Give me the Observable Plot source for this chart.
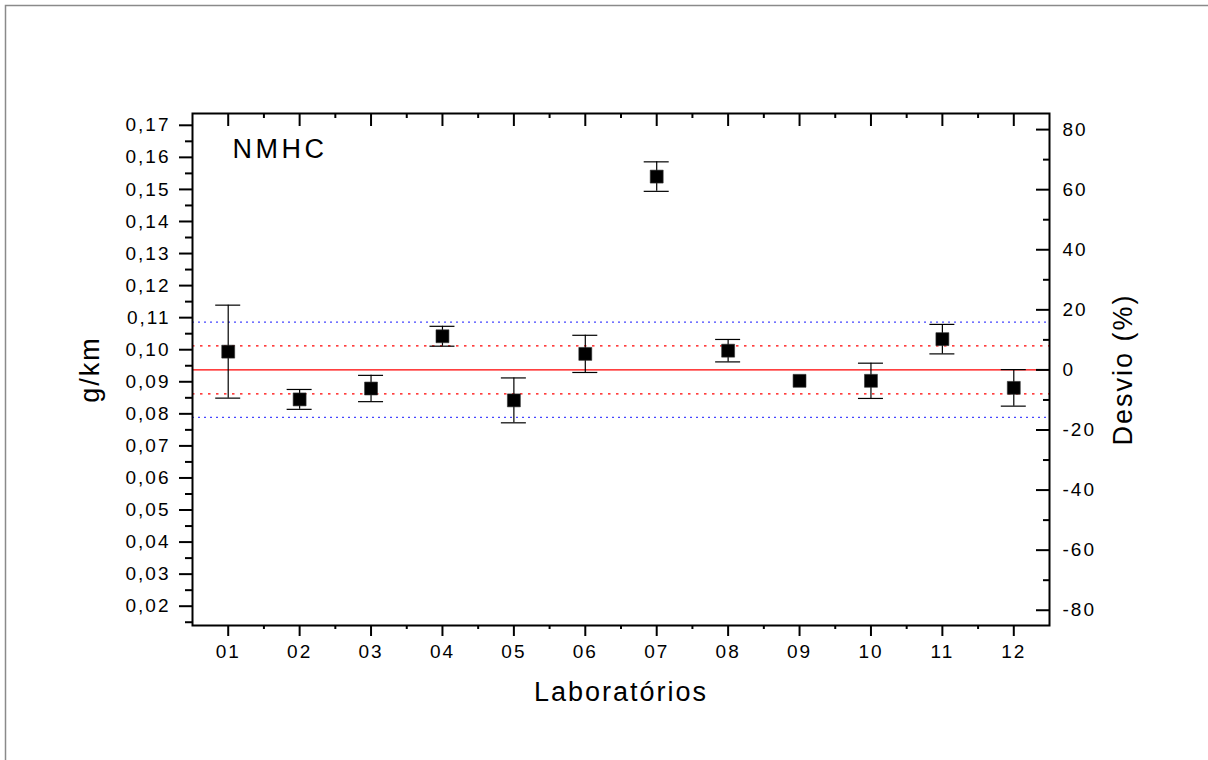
<!DOCTYPE html>
<html>
<head>
<meta charset="utf-8">
<script src="https://cdn.jsdelivr.net/npm/d3@7"></script>
<script src="https://cdn.jsdelivr.net/npm/@observablehq/plot@0.6"></script>
<style>
  body { margin: 0; background: #fff; }
  #chart text { letter-spacing: 2px; }
</style>
</head>
<body>
<div id="chart"></div>
<script>
// ---- data ----
const labs = ["01","02","03","04","05","06","07","08","09","10","11","12"];
const values = [0.0994, 0.0845, 0.0879, 0.1042, 0.0842, 0.0987, 0.1540, 0.0997, 0.0903, 0.0903, 0.1033, 0.0881];
const errors = [0.0145, 0.0031, 0.0041, 0.0031, 0.0070, 0.0058, 0.0046, 0.0035, 0.0000, 0.0055, 0.0046, 0.0057];
const meanValue = 0.0937;
const innerBand = [0.1012, 0.0862];   // dotted red
const outerBand = [0.1086, 0.0789];   // dotted blue

// ---- tick values / labels ----
const leftTicks = [0.02,0.03,0.04,0.05,0.06,0.07,0.08,0.09,0.10,0.11,0.12,0.13,0.14,0.15,0.16,0.17];
const leftTickLabels = ["0,02","0,03","0,04","0,05","0,06","0,07","0,08","0,09","0,10","0,11","0,12","0,13","0,14","0,15","0,16","0,17"];
const leftMinor = [0.015,0.025,0.035,0.045,0.055,0.065,0.075,0.085,0.095,0.105,0.115,0.125,0.135,0.145,0.155,0.165];
const pctTicks = [-80,-60,-40,-20,0,20,40,60,80];
const pctTickLabels = ["-80","-60","-40","-20","0","20","40","60","80"];
const pctMinor = [-70,-50,-30,-10,10,30,50,70];
const labMinor = [1.5,2.5,3.5,4.5,5.5,6.5,7.5,8.5,9.5,10.5,11.5];

const data = labs.map((lab, i) => ({lab, x: i + 1, v: values[i], e: errors[i]}));
const withErr = data.filter(d => d.e > 0);
const pctToG = p => meanValue * (1 + p / 100);
const labPos = labs.map((l, i) => i + 1);

const font = "'Liberation Sans', Arial, Helvetica, sans-serif";
const red = "#ff0000";
const blue = "#4646ff";

const chart = Plot.plot({
  width: 1208,
  height: 760,
  marginLeft: 192,
  marginRight: 159,
  marginTop: 113,
  marginBottom: 135,
  style: {fontFamily: font, fontSize: "19px", color: "black", background: "white"},
  x: {type: "linear", domain: [0.5, 12.5]},
  y: {type: "linear", domain: [0.01398, 0.17368]},
  marks: [
    // outer picture border (extends past right/bottom edges)
    Plot.frame({stroke: "#8a8a8a", strokeWidth: 1.5, insetTop: -108, insetLeft: -187, insetRight: -300, insetBottom: -300}),
    // reference lines
    Plot.ruleY(outerBand, {stroke: blue, strokeWidth: 1.3, strokeDasharray: "2,4"}),
    Plot.ruleY(innerBand, {stroke: red, strokeWidth: 1.2, strokeDasharray: "2.5,5.5"}),
    Plot.ruleY([meanValue], {stroke: red, strokeWidth: 1.4}),
    // error bars
    Plot.ruleX(withErr, {x: "x", y1: d => d.v - d.e, y2: d => d.v + d.e, stroke: "black", strokeWidth: 1.2}),
    Plot.ruleY(withErr, {y: d => d.v + d.e, x1: "x", x2: "x", insetLeft: -12.5, insetRight: -12.5, stroke: "black", strokeWidth: 1.2}),
    Plot.ruleY(withErr, {y: d => d.v - d.e, x1: "x", x2: "x", insetLeft: -12.5, insetRight: -12.5, stroke: "black", strokeWidth: 1.2}),
    // points
    Plot.dot(data, {x: "x", y: "v", symbol: "square", r: 7.3, fill: "black", stroke: "#333", strokeWidth: 0.6}),
    // axes box
    Plot.frame({stroke: "black", strokeWidth: 2}),
    // left axis
    Plot.axisY(leftTicks, {anchor: "left", tickSize: 13, tickPadding: 9, strokeWidth: 2, tickFormat: (d, i) => leftTickLabels[i], fontSize: 19, label: null}),
    Plot.axisY(leftMinor, {anchor: "left", tickSize: 7, strokeWidth: 2, fill: "none", label: null}),
    // right axis (Desvio %), ticks pointing inward
    Plot.axisY(pctTicks.map(pctToG), {anchor: "right", tickSize: 14, dx: -14, strokeWidth: 2, fill: "none", label: null}),
    Plot.axisY(pctMinor.map(pctToG), {anchor: "right", tickSize: 7, dx: -7, strokeWidth: 2, fill: "none", label: null}),
    Plot.axisY(pctTicks.map(pctToG), {anchor: "right", tickSize: 0, tickPadding: 13, stroke: "none", tickFormat: (d, i) => pctTickLabels[i], fontSize: 19, label: null}),
    // bottom axis
    Plot.axisX(labPos, {anchor: "bottom", tickSize: 11, tickPadding: 8, strokeWidth: 2, tickFormat: (d, i) => labs[i], fontSize: 19, label: null}),
    Plot.axisX(labMinor, {anchor: "bottom", tickSize: 4, strokeWidth: 2, fill: "none", label: null}),
    // top axis, inward ticks
    Plot.axisX(labPos, {anchor: "top", tickSize: 12, dy: 12, strokeWidth: 2, fill: "none", label: null}),
    Plot.axisX(labMinor, {anchor: "top", tickSize: 4, dy: 4, strokeWidth: 2, fill: "none", label: null}),
    // titles
    Plot.text(["NMHC"], {frameAnchor: "top-left", dx: 40, dy: 36, textAnchor: "start", lineAnchor: "middle", fontSize: 27, fill: "black"}),
    Plot.text(["Laboratórios"], {frameAnchor: "bottom", dy: 67, textAnchor: "middle", lineAnchor: "middle", fontSize: 27, fill: "black"}),
    Plot.text(["g/km"], {frameAnchor: "left", dx: -102, rotate: -90, textAnchor: "middle", lineAnchor: "middle", fontSize: 27, fill: "black"}),
    Plot.text(["Desvio (%)"], {frameAnchor: "right", dx: 74, rotate: -90, textAnchor: "middle", lineAnchor: "middle", fontSize: 27, fill: "black"})
  ]
});

d3.select(chart).selectAll("text").filter(function() { return this.textContent === "NMHC"; })
  .style("letter-spacing", "3.5px");

document.getElementById("chart").appendChild(chart);
</script>
</body>
</html>
